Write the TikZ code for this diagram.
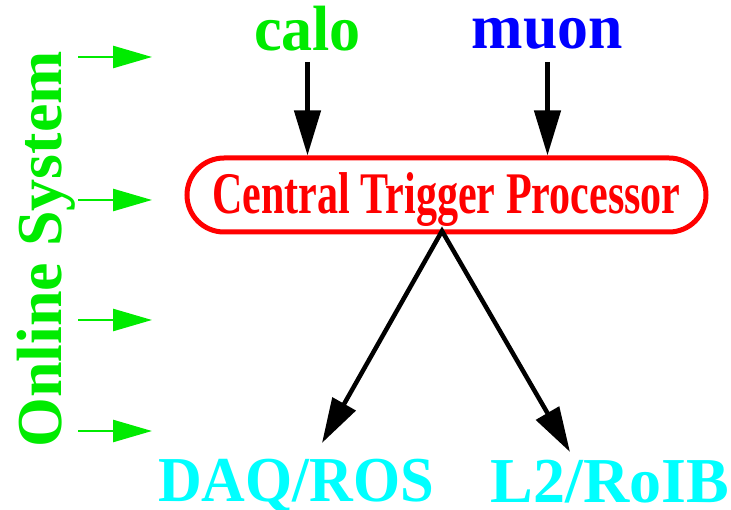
\documentclass[tikz,border=0pt]{standalone}
\usepackage{fontspec}
\setmainfont{Liberation Serif}
\usetikzlibrary{arrows.meta}
\definecolor{lime}{RGB}{0,235,0}
\definecolor{ctpred}{RGB}{255,0,0}
\definecolor{aqua}{RGB}{0,255,255}
\definecolor{mublue}{RGB}{0,0,255}
\begin{document}
\begin{tikzpicture}[x=1pt,y=-1pt,
  lbl/.style={font=\bfseries\fontsize{64}{70}\selectfont, inner sep=0pt, anchor=base},
  blk/.style={line width=4.5pt, -{Triangle[length=45pt,width=26pt]}},
  blkboth/.style={line width=4.5pt, {Triangle[length=45pt,width=26pt]}-{Triangle[length=45pt,width=26pt]}},
  grn/.style={draw=lime, line width=2.5pt, -{Triangle[length=39pt,width=22pt]}},
  ctpbox/.style={draw=ctpred, line width=5pt, rounded corners=37pt, minimum width=519pt,
    minimum height=74pt, inner sep=0pt, text=ctpred, text height=38pt, text depth=0pt,
    font=\bfseries\fontsize{59}{65}\selectfont}]
\useasboundingbox (0,0) rectangle (731,510);
% labels
\node[lbl, text=lime] (calo) at (307.5,51) {\scalebox{0.97}[1]{calo}};
\node[lbl, text=mublue] (muon) at (547.5,49) {\scalebox{0.965}[1]{muon}};
\node[ctpbox] (ctp) at (446.5,195) {\scalebox{0.713}[1]{Central Trigger Processor}};
\node[lbl, text=aqua] (daq) at (296,501) {\scalebox{0.946}[1]{DAQ/ROS}};
\node[lbl, text=aqua] (l2) at (610,502) {L2/RoIB};
\node[lbl, text=lime, rotate=90] (online) at (61,249.5) {Online System};
% inputs
\draw[blk] ([yshift=-11pt]calo.base) -- (calo.base |- ctp.north);
\draw[blk] ([yshift=-13pt]muon.base) -- (muon.base |- ctp.north);
% outputs
\coordinate (split) at (442,231);
\coordinate (tipL) at (322,443);
\coordinate (tipR) at (570,452);
\draw[blkboth] (tipL) -- (split) -- (tipR);
% online system arrows
\foreach \yy in {57,200,320,431}{
  \coordinate (gs\yy) at (78,\yy);
  \coordinate (ge\yy) at (152,\yy);
  \draw[grn] (gs\yy) -- (ge\yy);
}
\end{tikzpicture}
\end{document}
